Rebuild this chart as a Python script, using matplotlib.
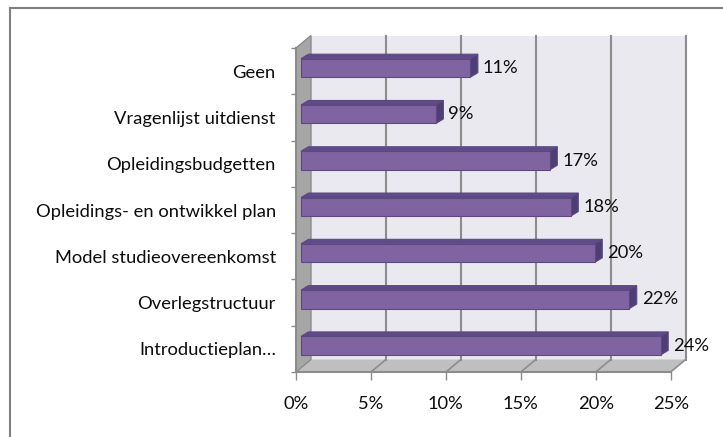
import matplotlib
matplotlib.use("Agg")
import matplotlib.pyplot as plt
from matplotlib.patches import Polygon, Rectangle
from matplotlib.lines import Line2D

# data, top to bottom as in the chart
categories = ["Geen", "Vragenlijst uitdienst", "Opleidingsbudgetten",
              "Opleidings- en ontwikkel plan", "Model studieovereenkomst",
              "Overlegstructuur", "Introductieplan…"]
values = [11.3, 9.0, 16.6, 18.0, 19.6, 21.9, 24.0]
xticks = [0, 5, 10, 15, 20, 25]

plt.rcParams['font.family'] = ['Lato', 'DejaVu Sans']
fs = 13.2
txt_c = "#0d0d0d"

W, H = 723, 437
fig = plt.figure(figsize=(W / 100, H / 100), dpi=100)

# front plane of the 3d box in pixels
x0_px, x1_px = 296, 670.7
ytop_px, ybot_px = 48, 372
ax = fig.add_axes([x0_px / W, 1 - ybot_px / H, (x1_px - x0_px) / W, (ybot_px - ytop_px) / H])
n = len(categories)
ax.set_xlim(0, 25)
ax.set_ylim(-0.5, n - 0.5)

px_x = 25 / (x1_px - x0_px)          # pct per pixel
px_y = n / (ybot_px - ytop_px)       # category per pixel

# depth offsets
ox, oy = 15 * px_x, 12.5 * px_y      # box depth
bx0, by0 = 5 * px_x, 3.2 * px_y      # bar front plane
bdx, bdy = 7.5 * px_x, 4.5 * px_y    # bar depth
h = 18.5 * px_y                      # bar face height

lo, hi = -0.5, n - 0.5
grid_c = "#8c8c8c"

# back wall
ax.add_patch(Rectangle((ox, lo + oy), 25, n, facecolor="#ebe9f0",
                       edgecolor="none", clip_on=False, zorder=0))
# floor
ax.add_patch(Polygon([(0, lo), (25, lo), (25 + ox, lo + oy), (ox, lo + oy)],
                     closed=True, facecolor="#bfbfbf", edgecolor="none",
                     clip_on=False, zorder=0.5))
# left wall
ax.add_patch(Polygon([(0, lo), (0, hi), (ox, hi + oy), (ox, lo + oy)],
                     closed=True, facecolor="#a6a6a6", edgecolor="#8c8c8c",
                     lw=1, clip_on=False, zorder=0.6))
# gridlines on back wall and floor
for t in xticks[1:]:
    ax.plot([t + ox, t + ox], [lo + oy, hi + oy], color=grid_c, lw=1.5,
            clip_on=False, zorder=0.7)
    ax.plot([t, t + ox], [lo, lo + oy], color=grid_c, lw=1.2,
            clip_on=False, zorder=0.7)
ax.plot([0, 25], [lo, lo], color="#8c8c8c", lw=1.5, clip_on=False, zorder=0.8)
ax.plot([0, 0], [lo, hi], color="#8c8c8c", lw=1.5, clip_on=False, zorder=0.8)

# bars
front_c, top_c, side_c, edge_c = "#8064a2", "#5f4b8b", "#4f3d75", "#5c4a7e"
for i, (cat, v) in enumerate(zip(categories, values)):
    y = n - 1 - i
    yb = y - h / 2 + by0
    yt = y + h / 2 + by0
    ax.add_patch(Polygon([(bx0, yt), (v + bx0, yt), (v + bx0 + bdx, yt + bdy), (bx0 + bdx, yt + bdy)],
                         closed=True, facecolor=top_c, edgecolor=edge_c, lw=0.8, zorder=2, clip_on=False))
    ax.add_patch(Polygon([(v + bx0, yb), (v + bx0, yt), (v + bx0 + bdx, yt + bdy), (v + bx0 + bdx, yb + bdy)],
                         closed=True, facecolor=side_c, edgecolor=edge_c, lw=0.8, zorder=2, clip_on=False))
    ax.add_patch(Rectangle((bx0, yb), v, h, facecolor=front_c, edgecolor=edge_c,
                           lw=0.8, zorder=3, clip_on=False))
    ax.text(v + bx0 + bdx + 5 * px_x, y + by0, f"{v:.0f}%", va="center", ha="left",
            fontsize=fs, color=txt_c, zorder=4, clip_on=False)

for s in ax.spines.values():
    s.set_visible(False)
ax.set_facecolor("none")

ax.set_xticks(xticks)
ax.set_xticklabels([f"{t}%" for t in xticks])
ax.tick_params(axis="x", direction="out", length=6, width=1, color=grid_c,
               pad=11, labelsize=fs, labelcolor=txt_c)

ax.set_yticks([k - 0.5 for k in range(n + 1)])
ax.set_yticklabels([])
ax.tick_params(axis="y", which="major", direction="out", length=3.5, width=1, color=grid_c)
ax.set_yticks(list(range(n)), minor=True)
ax.set_yticklabels(categories[::-1], minor=True)
ax.tick_params(axis="y", which="minor", length=0, pad=14.5, labelsize=fs, labelcolor=txt_c)

# chart frame (only top and left edge visible in the crop)
fig.add_artist(Line2D([9.5 / W, 9.5 / W], [0, 1 - 8 / H], color="#808080", lw=1.5))
fig.add_artist(Line2D([9.5 / W, 1], [1 - 8 / H, 1 - 8 / H], color="#808080", lw=1.5))

fig.savefig("out.png", dpi=100)
